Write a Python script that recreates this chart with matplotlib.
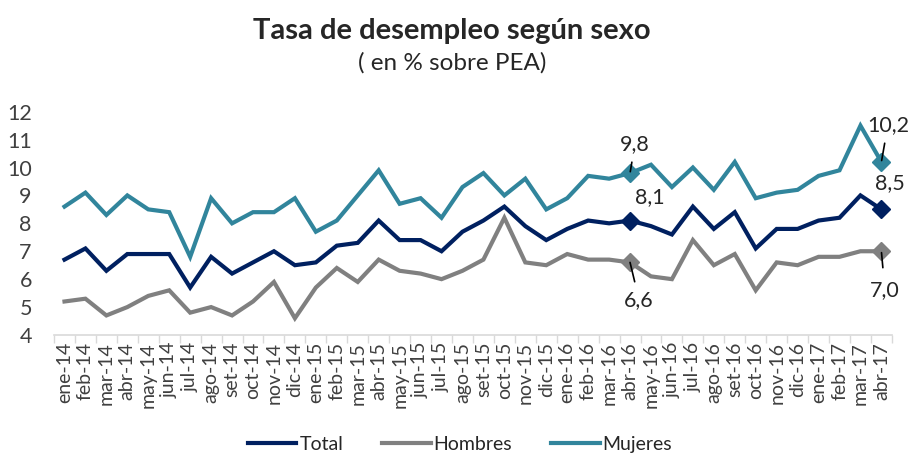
import matplotlib
matplotlib.use('Agg')
import matplotlib.pyplot as plt
import numpy as np

plt.rcParams['font.family'] = ['Lato', 'DejaVu Sans']

# meses ene-14 ... abr-17
meses = ['ene', 'feb', 'mar', 'abr', 'may', 'jun', 'jul', 'ago', 'set', 'oct', 'nov', 'dic']
etiquetas = [f'{m}-{a}' for a in ['14', '15', '16'] for m in meses] + \
            [f'{m}-17' for m in meses[:4]]

total = [6.7, 7.1, 6.3, 6.9, 6.9, 6.9, 5.7, 6.8, 6.2, 6.6, 7.0, 6.5,
         6.6, 7.2, 7.3, 8.1, 7.4, 7.4, 7.0, 7.7, 8.1, 8.6, 7.9, 7.4,
         7.8, 8.1, 8.0, 8.1, 7.9, 7.6, 8.6, 7.8, 8.4, 7.1, 7.8, 7.8,
         8.1, 8.2, 9.0, 8.5]
hombres = [5.2, 5.3, 4.7, 5.0, 5.4, 5.6, 4.8, 5.0, 4.7, 5.2, 5.9, 4.6,
           5.7, 6.4, 5.9, 6.7, 6.3, 6.2, 6.0, 6.3, 6.7, 8.2, 6.6, 6.5,
           6.9, 6.7, 6.7, 6.6, 6.1, 6.0, 7.4, 6.5, 6.9, 5.6, 6.6, 6.5,
           6.8, 6.8, 7.0, 7.0]
mujeres = [8.6, 9.1, 8.3, 9.0, 8.5, 8.4, 6.8, 8.9, 8.0, 8.4, 8.4, 8.9,
           7.7, 8.1, 9.0, 9.9, 8.7, 8.9, 8.2, 9.3, 9.8, 9.0, 9.6, 8.5,
           8.9, 9.7, 9.6, 9.8, 10.1, 9.3, 10.0, 9.2, 10.2, 8.9, 9.1, 9.2,
           9.7, 9.9, 11.5, 10.2]

c_total = '#002060'
c_hombres = '#808080'
c_mujeres = '#31859C'

x = np.arange(len(etiquetas))

fig = plt.figure(figsize=(9.11, 4.57), dpi=100)
ax = fig.add_axes([0.0593, 0.267, 0.9197, 0.4886])

ax.plot(x, total, color=c_total, lw=3, label='Total', solid_joinstyle='miter')
ax.plot(x, hombres, color=c_hombres, lw=3, label='Hombres', solid_joinstyle='miter')
ax.plot(x, mujeres, color=c_mujeres, lw=3, label='Mujeres', solid_joinstyle='miter')

# marcadores en abr-16 y abr-17
marcados = [27, 39]
for serie, col in [(total, c_total), (hombres, c_hombres), (mujeres, c_mujeres)]:
    ax.plot(marcados, [serie[i] for i in marcados], ls='none', marker='D',
            ms=9, color=col)

def fmt(v):
    return f'{v:.1f}'.replace('.', ',')

# etiquetas de datos: (indice, valor, desplazamiento en puntos, recorte de la guia)
anot = [
    (27, mujeres[27], (3.5, 21), (4, 1)),
    (27, total[27], (14, 17), None),
    (27, hombres[27], (6.5, -27), (4, 0)),
    (39, mujeres[39], (4.7, 26.6), (4, 1)),
    (39, total[39], (6, 19), None),
    (39, hombres[39], (2.5, -28), (7, 1)),
]
for i, v, off, recorte in anot:
    flecha = None
    if recorte is not None:
        flecha = dict(arrowstyle='-', color='black', lw=1.2,
                      shrinkA=recorte[0], shrinkB=recorte[1])
    ax.annotate(fmt(v), xy=(i, v), xytext=off, textcoords='offset points',
                ha='center', va='center', fontsize=15.5, color='#262626',
                arrowprops=flecha, annotation_clip=False)

ax.set_xlim(-0.5, len(x) - 0.5)
ax.set_ylim(4, 12)
ax.set_yticks(range(4, 13))
ax.set_xticks(x)
ax.set_xticklabels(etiquetas, rotation=90, fontsize=14, color='#404040')
ax.set_xticks(np.arange(-0.5, len(x), 1), minor=True)
ax.tick_params(axis='x', which='major', length=0, pad=5)
ax.tick_params(axis='x', which='minor', length=6, color='#D9D9D9', width=1)
ax.tick_params(axis='y', length=0, pad=16, labelsize=15.5, labelcolor='#404040')

for s in ['top', 'right', 'left']:
    ax.spines[s].set_visible(False)
ax.spines['bottom'].set_color('#D9D9D9')
ax.spines['bottom'].set_linewidth(1.2)

fig.text(0.496, 0.932, 'Tasa de desempleo según sexo', ha='center', va='center',
         fontsize=21, fontweight='bold', color='#262626')
fig.text(0.496, 0.862, '( en % sobre PEA)', ha='center', va='center',
         fontsize=17.5, color='#262626')

fig.legend(loc='center', bbox_to_anchor=(0.505, 0.028), ncol=3, frameon=False,
           fontsize=14, handlelength=2.5, handletextpad=0.15, columnspacing=2.0,
           labelcolor='#262626')

fig.savefig('out.png', dpi=100)
